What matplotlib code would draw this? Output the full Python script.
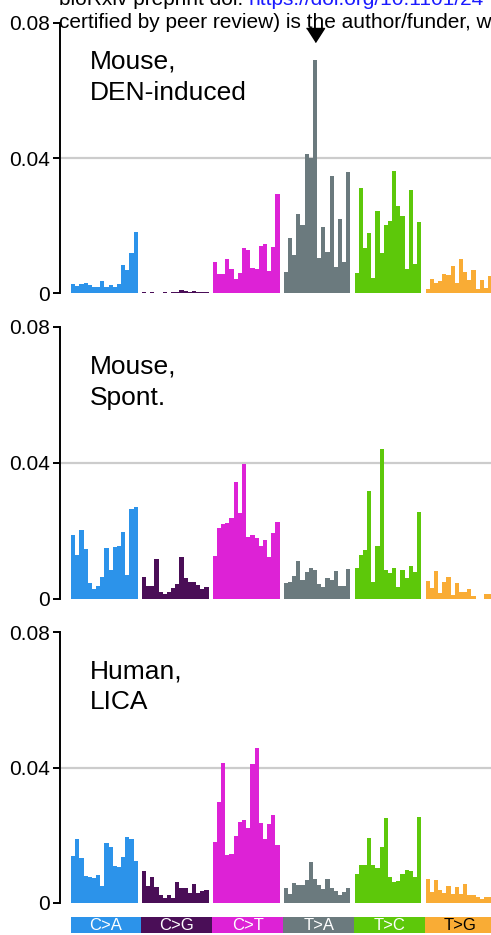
import matplotlib
matplotlib.use("Agg")
import matplotlib.pyplot as plt

plt.rcParams['font.family'] = ['Liberation Sans', 'DejaVu Sans']

# mutation classes and their colours
CLASSES = ["C>A", "C>G", "C>T", "T>A", "T>C", "T>G"]
COLORS = ["#2C93EA", "#4A0E57", "#DD22D6", "#6B7A7E", "#5DC80A", "#F9AC35"]
LABEL_TEXT_COLORS = ["white", "white", "white", "white", "white", "black"]

# 96 trinucleotide contexts, 16 per class (one row per class)
den_induced = [
    0.0027, 0.0023, 0.0027, 0.0031, 0.0025, 0.0020, 0.0020, 0.0036, 0.0020, 0.0024, 0.0020, 0.0029, 0.0085, 0.0069, 0.0120, 0.0180,
    0.0004, 0.0002, 0.0004, 0.0002, 0.0002, 0.0003, 0.0002, 0.0004, 0.0005, 0.0010, 0.0007, 0.0005, 0.0007, 0.0005, 0.0004, 0.0004,
    0.0092, 0.0056, 0.0056, 0.0101, 0.0072, 0.0041, 0.0059, 0.0135, 0.0129, 0.0075, 0.0071, 0.0141, 0.0147, 0.0065, 0.0136, 0.0294,
    0.0063, 0.0164, 0.0112, 0.0236, 0.0203, 0.0413, 0.0400, 0.0690, 0.0103, 0.0197, 0.0123, 0.0348, 0.0077, 0.0219, 0.0092, 0.0358,
    0.0061, 0.0313, 0.0135, 0.0179, 0.0046, 0.0243, 0.0118, 0.0201, 0.0213, 0.0361, 0.0258, 0.0229, 0.0071, 0.0307, 0.0088, 0.0210,
    0.0014, 0.0042, 0.0031, 0.0036, 0.0056, 0.0053, 0.0081, 0.0031, 0.0102, 0.0064, 0.0039, 0.0069, 0.0014, 0.0039, 0.0017, 0.0051,
]

spont = [
    0.0189, 0.0129, 0.0204, 0.0146, 0.0047, 0.0029, 0.0037, 0.0066, 0.0149, 0.0086, 0.0153, 0.0156, 0.0197, 0.0072, 0.0264, 0.0272,
    0.0066, 0.0039, 0.0037, 0.0118, 0.0022, 0.0014, 0.0020, 0.0032, 0.0045, 0.0123, 0.0061, 0.0050, 0.0050, 0.0042, 0.0030, 0.0034,
    0.0126, 0.0208, 0.0222, 0.0225, 0.0238, 0.0344, 0.0254, 0.0396, 0.0182, 0.0187, 0.0180, 0.0157, 0.0173, 0.0123, 0.0193, 0.0227,
    0.0046, 0.0051, 0.0068, 0.0112, 0.0056, 0.0079, 0.0090, 0.0086, 0.0044, 0.0035, 0.0061, 0.0055, 0.0083, 0.0039, 0.0039, 0.0088,
    0.0091, 0.0128, 0.0145, 0.0317, 0.0051, 0.0157, 0.0442, 0.0086, 0.0076, 0.0091, 0.0036, 0.0086, 0.0061, 0.0096, 0.0078, 0.0257,
    0.0053, 0.0031, 0.0082, 0.0018, 0.0050, 0.0065, 0.0012, 0.0046, 0.0020, 0.0020, 0.0028, 0.0008, 0.0000, 0.0000, 0.0016, 0.0016,
]

lica = [
    0.0140, 0.0188, 0.0132, 0.0080, 0.0077, 0.0075, 0.0083, 0.0051, 0.0176, 0.0165, 0.0109, 0.0105, 0.0137, 0.0194, 0.0189, 0.0124,
    0.0093, 0.0051, 0.0076, 0.0048, 0.0024, 0.0014, 0.0024, 0.0016, 0.0063, 0.0043, 0.0043, 0.0029, 0.0056, 0.0029, 0.0034, 0.0038,
    0.0181, 0.0298, 0.0413, 0.0142, 0.0144, 0.0199, 0.0240, 0.0245, 0.0221, 0.0411, 0.0457, 0.0237, 0.0189, 0.0233, 0.0260, 0.0171,
    0.0045, 0.0026, 0.0059, 0.0052, 0.0052, 0.0069, 0.0120, 0.0072, 0.0052, 0.0040, 0.0070, 0.0045, 0.0035, 0.0023, 0.0032, 0.0045,
    0.0085, 0.0111, 0.0111, 0.0193, 0.0111, 0.0102, 0.0166, 0.0250, 0.0076, 0.0063, 0.0065, 0.0086, 0.0098, 0.0093, 0.0078, 0.0253,
    0.0071, 0.0033, 0.0068, 0.0038, 0.0030, 0.0051, 0.0027, 0.0046, 0.0027, 0.0056, 0.0024, 0.0024, 0.0019, 0.0011, 0.0017, 0.0019,
]

panels = [
    ("Mouse,\nDEN-induced", den_induced),
    ("Mouse,\nSpont.", spont),
    ("Human,\nLICA", lica),
]

y_ticks = [0, 0.04, 0.08]
y_tick_labels = ["0", "0.04", "0.08"]

W, H = 491, 935
GROUP_STEP = 17          # 16 bars + one bar gap
XLIM = (-2.64, 100.7)


def px_rect(left, top, width, height):
    # pixel box -> figure fraction
    return [left / W, 1 - (top + height) / H, width / W, height / H]


def draw_panel(ax, label, values):
    x = [g * GROUP_STEP + i for g in range(6) for i in range(16)]
    colors = [COLORS[g] for g in range(6) for i in range(16)]
    ax.bar(x, values, width=1.0, align="edge", color=colors, linewidth=0, zorder=2)
    ax.axhline(0.04, color="#cccccc", linewidth=1.6, zorder=1)

    ax.set_xlim(*XLIM)
    ax.set_ylim(0, 0.08)
    ax.set_xticks([])
    ax.set_yticks(y_ticks)
    ax.set_yticklabels(y_tick_labels)
    ax.tick_params(axis="y", direction="out", length=5, width=1.4,
                   labelsize=15, pad=2)
    for side in ["top", "right", "bottom"]:
        ax.spines[side].set_visible(False)
    ax.spines["left"].set_linewidth(1.4)
    ax.patch.set_alpha(0)

    ax.text(30 / 431, 0.715, label, transform=ax.transAxes, fontsize=19,
            va="baseline", ha="left", linespacing=1.38)


fig = plt.figure(figsize=(W / 100, H / 100), dpi=100)

# (top pixel of 0.08, pixel of 0)
panel_px = [(23, 293.3), (327, 599), (632, 903)]

axes = []
for (label, values), (top, zero) in zip(panels, panel_px):
    ax = fig.add_axes(px_rect(60, top, 431, zero - top))
    draw_panel(ax, label, values)
    axes.append(ax)

# arrow over the T>A peak in the first panel
axes[0].plot([3 * GROUP_STEP + 7.5], [0.0765], marker=[(-9, 7), (9, 7), (0, -7)],
             markersize=13, color="black", clip_on=False, zorder=5)

# class label strip
lab_ax = fig.add_axes(px_rect(60, 916.7, 431, 16))
for g, cls in enumerate(CLASSES):
    lab_ax.bar(g * GROUP_STEP - 0.1, 1, width=GROUP_STEP, align="edge",
               color=COLORS[g], linewidth=0)
    lab_ax.text(g * GROUP_STEP - 0.1 + GROUP_STEP / 2, 0.42, cls,
                color=LABEL_TEXT_COLORS[g], fontsize=12, ha="center", va="center")
lab_ax.set_xlim(*XLIM)
lab_ax.set_ylim(0, 1)
lab_ax.axis("off")

# preprint header, cut by the page crop
hdr = fig.text(59 / W, 1 - 5 / H, "bioRxiv preprint doi: ", fontsize=15,
               va="baseline", ha="left")
fig.canvas.draw()
bb = hdr.get_window_extent()
fig.text(bb.x1 / W, 1 - 5 / H, "https://doi.org/10.1101/24", fontsize=15,
         va="baseline", ha="left", color="#1a1aff")
fig.text(59 / W, 1 - 28 / H,
         "certified by peer review) is the author/funder, who has granted bioRxiv a license",
         fontsize=15, va="baseline", ha="left")

fig.savefig("out.png", dpi=100)
